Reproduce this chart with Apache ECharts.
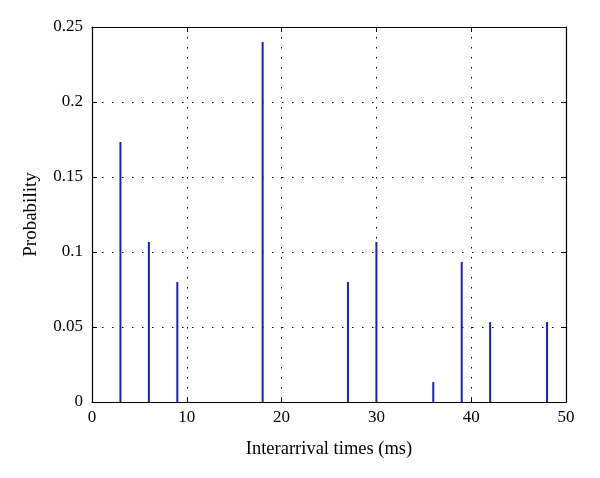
<!DOCTYPE html>
<html><head><meta charset="utf-8">
<script src="https://cdn.jsdelivr.net/npm/echarts@6/dist/echarts.min.js"></script>
<style>html,body{margin:0;padding:0;background:#fff}#c{width:600px;height:478px}</style>
</head><body><div id="c"></div>
<script>
const times = [3, 6, 9, 18, 27, 30, 36, 39, 42, 48];
const probs = [0.1733, 0.1067, 0.08, 0.24, 0.08, 0.1067, 0.0133, 0.0933, 0.0533, 0.0533];
const xTitle = 'Interarrival times (ms)';
const yTitle = 'Probability';

const font = 'Liberation Serif';
const chart = echarts.init(document.getElementById('c'));
const tickStyle = {show: true, inside: true, length: 5, lineStyle: {color: '#000', width: 1}};
const grid = {left: 92, right: 34, top: 27, bottom: 76};
chart.setOption({
  animation: false,
  grid: grid,
  xAxis: [{
    type: 'value', min: 0, max: 50, interval: 10, position: 'bottom',
    name: xTitle, nameLocation: 'middle', nameGap: 38,
    nameTextStyle: {fontFamily: font, fontSize: 18.5, color: '#000'},
    axisLine: {show: true, onZero: false, lineStyle: {color: '#000', width: 1.2}},
    axisTick: tickStyle,
    axisLabel: {fontFamily: font, fontSize: 17, color: '#000', margin: 7},
    splitLine: {show: true, lineStyle: {color: '#000', width: 1, type: [1.5, 8.5]}}
  }, {
    type: 'value', min: 0, max: 50, interval: 10, position: 'top',
    axisLine: {show: true, onZero: false, lineStyle: {color: '#000', width: 1.2}},
    axisTick: tickStyle, axisLabel: {show: false}, splitLine: {show: false}
  }],
  yAxis: [{
    type: 'value', min: 0, max: 0.25, interval: 0.05, position: 'left',
    name: yTitle, nameLocation: 'middle', nameGap: 51,
    nameTextStyle: {fontFamily: font, fontSize: 19, color: '#000'},
    axisLine: {show: true, onZero: false, lineStyle: {color: '#000', width: 1.2}},
    axisTick: tickStyle,
    axisLabel: {fontFamily: font, fontSize: 17, color: '#000', margin: 9},
    splitLine: {show: true, lineStyle: {color: '#000', width: 1, type: [1.5, 8.5]}}
  }, {
    type: 'value', min: 0, max: 0.25, interval: 0.05, position: 'right',
    axisLine: {show: true, onZero: false, lineStyle: {color: '#000', width: 1.2}},
    axisTick: tickStyle, axisLabel: {show: false}, splitLine: {show: false}
  }],
  series: [{
    type: 'bar', xAxisIndex: 0, yAxisIndex: 0,
    barWidth: 2,
    itemStyle: {color: '#1c1cc4'},
    data: times.map((t, i) => [t, probs[i]])
  }]
});
</script></body></html>
